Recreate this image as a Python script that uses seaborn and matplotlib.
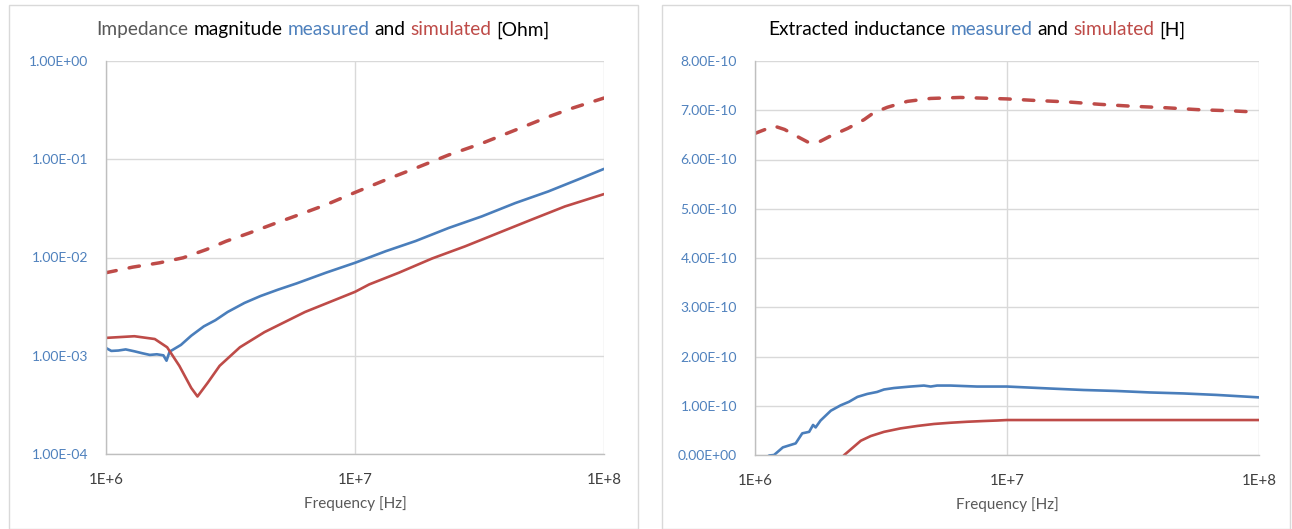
import matplotlib
matplotlib.use("Agg")
import matplotlib.pyplot as plt
import seaborn as sns
from matplotlib.patches import Rectangle
from matplotlib.ticker import FixedLocator, FixedFormatter, NullLocator
from matplotlib.offsetbox import TextArea, HPacker, AnchoredOffsetbox

# ---------------- data ----------------
# Impedance magnitude [Ohm]
zm_freq = [1.00e6, 1.05e6, 1.12e6, 1.20e6, 1.30e6, 1.40e6, 1.50e6, 1.60e6, 1.70e6,
           1.75e6, 1.80e6, 2.00e6, 2.20e6, 2.47e6, 2.75e6, 3.08e6, 3.60e6, 4.17e6,
           4.90e6, 5.83e6, 7.64e6, 1.00e7, 1.33e7, 1.75e7, 2.38e7, 3.23e7, 4.40e7,
           5.97e7, 8.10e7, 1.00e8]
zm_meas = [1.20e-3, 1.12e-3, 1.13e-3, 1.16e-3, 1.11e-3, 1.06e-3, 1.02e-3, 1.035e-3, 1.01e-3,
           8.9e-4, 1.10e-3, 1.29e-3, 1.60e-3, 1.99e-3, 2.30e-3, 2.79e-3, 3.45e-3, 4.05e-3,
           4.70e-3, 5.45e-3, 7.00e-3, 8.83e-3, 1.16e-2, 1.47e-2, 2.00e-2, 2.62e-2, 3.58e-2,
           4.70e-2, 6.41e-2, 7.98e-2]

zs_freq = [1.00e6, 1.30e6, 1.57e6, 1.76e6, 1.97e6, 2.20e6, 2.33e6, 2.56e6, 2.86e6,
           3.45e6, 4.33e6, 6.30e6, 1.00e7, 1.14e7, 1.50e7, 2.04e7, 2.77e7, 3.77e7,
           5.12e7, 6.97e7, 1.00e8]
zs_sim = [1.52e-3, 1.58e-3, 1.48e-3, 1.22e-3, 7.9e-4, 4.7e-4, 3.85e-4, 5.3e-4, 7.9e-4,
          1.22e-3, 1.74e-3, 2.79e-3, 4.47e-3, 5.32e-3, 7.00e-3, 9.77e-3, 1.30e-2, 1.78e-2,
          2.43e-2, 3.31e-2, 4.42e-2]

zd_freq = [1.00e6, 1.28e6, 1.64e6, 2.04e6, 2.53e6, 3.04e6, 3.77e6, 4.82e6, 5.97e6,
           7.64e6, 1.00e7, 1.33e7, 1.75e7, 2.38e7, 3.23e7, 4.40e7, 5.97e7, 7.40e7, 1.00e8]
zd_sim = [7.0e-3, 7.98e-3, 8.83e-3, 9.93e-3, 1.205e-2, 1.466e-2, 1.778e-2, 2.244e-2, 2.73e-2,
          3.44e-2, 4.59e-2, 6.18e-2, 8.11e-2, 0.1107, 0.145, 0.198, 0.270, 0.329, 0.42]

# Extracted inductance [H]
lm_freq = [1.00e6, 1.10e6, 1.14e6, 1.19e6, 1.29e6, 1.45e6, 1.54e6, 1.64e6, 1.70e6,
           1.74e6, 1.82e6, 2.00e6, 2.19e6, 2.36e6, 2.55e6, 2.79e6, 3.05e6, 3.25e6,
           3.56e6, 4.14e6, 4.68e6, 4.98e6, 5.28e6, 5.97e6, 7.60e6, 1.00e7, 1.48e7,
           2.01e7, 2.72e7, 3.69e7, 5.00e7, 6.78e7, 1.00e8]
lm_meas = [-0.35e-10, -0.06e-10, -0.01e-10, 0.00e-10, 0.155e-10, 0.236e-10, 0.44e-10, 0.47e-10, 0.61e-10,
           0.56e-10, 0.70e-10, 0.90e-10, 1.01e-10, 1.08e-10, 1.18e-10, 1.24e-10, 1.28e-10, 1.33e-10,
           1.36e-10, 1.39e-10, 1.41e-10, 1.39e-10, 1.41e-10, 1.41e-10, 1.39e-10, 1.39e-10, 1.35e-10,
           1.32e-10, 1.30e-10, 1.27e-10, 1.25e-10, 1.22e-10, 1.17e-10]

ls_freq = [1.00e6, 2.00e6, 2.26e6, 2.40e6, 2.63e6, 2.88e6, 3.25e6, 3.78e6, 4.41e6,
           5.13e6, 5.97e6, 6.95e6, 8.09e6, 9.12e6, 1.00e7, 3.00e7, 1.00e8]
ls_sim = [-3.0e-10, -0.32e-10, 0.00e-10, 0.115e-10, 0.29e-10, 0.385e-10, 0.47e-10, 0.54e-10, 0.59e-10,
          0.63e-10, 0.655e-10, 0.675e-10, 0.69e-10, 0.70e-10, 0.71e-10, 0.71e-10, 0.71e-10]

ld_freq = [1.00e6, 1.19e6, 1.31e6, 1.48e6, 1.64e6, 1.80e6, 2.00e6, 2.33e6, 2.71e6,
           2.96e6, 3.35e6, 4.02e6, 4.98e6, 6.53e6, 1.00e7, 1.28e7, 1.73e7, 2.34e7,
           3.17e7, 4.30e7, 5.82e7, 7.66e7, 1.00e8]
ld_sim = [6.53e-10, 6.68e-10, 6.61e-10, 6.46e-10, 6.34e-10, 6.36e-10, 6.48e-10, 6.63e-10, 6.81e-10,
          6.95e-10, 7.06e-10, 7.18e-10, 7.24e-10, 7.26e-10, 7.23e-10, 7.20e-10, 7.17e-10, 7.12e-10,
          7.08e-10, 7.05e-10, 7.01e-10, 6.99e-10, 6.96e-10]

x_ticks = [1e6, 1e7, 1e8]
x_labels = ["1E+6", "1E+7", "1E+8"]
z_ticks = [1e-4, 1e-3, 1e-2, 1e-1, 1e0]
z_labels = ["1.00E-04", "1.00E-03", "1.00E-02", "1.00E-01", "1.00E+00"]
l_ticks = [0, 1e-10, 2e-10, 3e-10, 4e-10, 5e-10, 6e-10, 7e-10, 8e-10]
l_labels = ["0.00E+00", "1.00E-10", "2.00E-10", "3.00E-10", "4.00E-10",
            "5.00E-10", "6.00E-10", "7.00E-10", "8.00E-10"]

# ---------------- style ----------------
sns.set_theme(style="white")
FONT = ["Lato", "DejaVu Sans"]
plt.rcParams["font.family"] = FONT

BLUE = "#4A7EBB"
RED = "#BE4B48"
TICK_BLUE = "#4F81BD"
GRID = "#D9D9D9"
GRAY_TXT = "#595959"
DASH = (0, (3.0, 3.8))

W, H = 1292, 529
fig = plt.figure(figsize=(W / 100, H / 100), dpi=100)
fig.patch.set_facecolor("white")

# chart-area frames
for x0, x1 in [(9, 638), (662, 1290)]:
    fig.add_artist(Rectangle((x0 / W, 0), (x1 - x0) / W, (H - 5) / H,
                             transform=fig.transFigure, fill=False,
                             edgecolor=GRID, lw=1.0))

ax1 = fig.add_axes([106 / W, 1 - 454 / H, 498 / W, 393 / H])
ax2 = fig.add_axes([755 / W, 1 - 455 / H, 504 / W, 394 / H])

sns.lineplot(x=zd_freq, y=zd_sim, ax=ax1, color=RED, lw=2.5, linestyle=DASH,
             dash_capstyle="round")
sns.lineplot(x=zm_freq, y=zm_meas, ax=ax1, color=BLUE, lw=1.9)
sns.lineplot(x=zs_freq, y=zs_sim, ax=ax1, color=RED, lw=1.9)

sns.lineplot(x=ld_freq, y=ld_sim, ax=ax2, color=RED, lw=2.5, linestyle=DASH,
             dash_capstyle="round")
sns.lineplot(x=lm_freq, y=lm_meas, ax=ax2, color=BLUE, lw=1.9)
sns.lineplot(x=ls_freq, y=ls_sim, ax=ax2, color=RED, lw=1.9)

for ax in (ax1, ax2):
    ax.set_xscale("log")
    ax.set_xlim(1e6, 1e8)
    ax.xaxis.set_major_locator(FixedLocator(x_ticks))
    ax.xaxis.set_major_formatter(FixedFormatter(x_labels))
    ax.xaxis.set_minor_locator(NullLocator())
    ax.grid(True, which="major", color=GRID, lw=1.0)
    ax.set_axisbelow(True)
    for side in ("left", "bottom"):
        ax.spines[side].set_color("#BFBFBF")
        ax.spines[side].set_linewidth(1.0)
    for side in ("top", "right"):
        ax.spines[side].set_visible(False)
    ax.tick_params(axis="both", length=0)
    ax.tick_params(axis="x", pad=14, labelsize=10.8, labelcolor="#404040")
    ax.tick_params(axis="y", pad=13, labelsize=10, labelcolor=TICK_BLUE)
    ax.set_xlabel("Frequency [Hz]", fontsize=11, color=GRAY_TXT, labelpad=6)
    ax.set_ylabel("")
    ax.set_facecolor("white")

ax1.set_yscale("log")
ax1.set_ylim(1e-4, 1e0)
ax1.yaxis.set_major_locator(FixedLocator(z_ticks))
ax1.yaxis.set_major_formatter(FixedFormatter(z_labels))
ax1.yaxis.set_minor_locator(NullLocator())

ax2.set_ylim(0, 8e-10)
ax2.yaxis.set_major_locator(FixedLocator(l_ticks))
ax2.yaxis.set_major_formatter(FixedFormatter(l_labels))
ax2.yaxis.get_offset_text().set_visible(False)


def colored_title(parts, xc, yc, size=13.8):
    boxes = [TextArea(t, textprops=dict(color=c, fontsize=size, family=FONT))
             for t, c in parts]
    pack = HPacker(children=boxes, align="baseline", pad=0, sep=size * 0.26)
    box = AnchoredOffsetbox(loc="center", child=pack, pad=0, borderpad=0,
                            frameon=False, bbox_to_anchor=(xc / W, 1 - yc / H),
                            bbox_transform=fig.transFigure)
    fig.add_artist(box)


colored_title([("Impedance", GRAY_TXT), ("magnitude", "black"), ("measured", TICK_BLUE),
               ("and", "black"), ("simulated", RED), ("[Ohm]", "black")], 323, 30)
colored_title([("Extracted", "black"), ("inductance", "black"), ("measured", TICK_BLUE),
               ("and", "black"), ("simulated", RED), ("[H]", "black")], 977, 30)

fig.savefig("out.png", dpi=100, facecolor="white")
